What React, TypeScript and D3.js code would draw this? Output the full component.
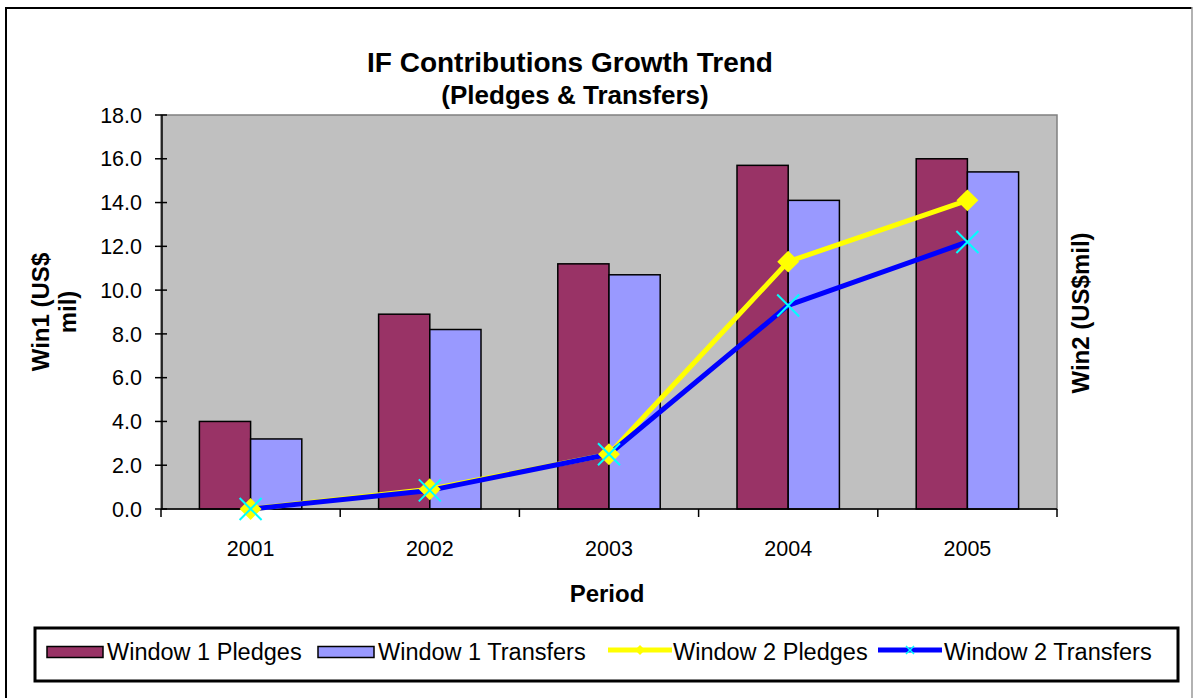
import React from "react";
import * as d3 from "d3";

const periods = ["2001", "2002", "2003", "2004", "2005"];
const w1Pledges = [4.0, 8.9, 11.2, 15.7, 16.0];
const w1Transfers = [3.2, 8.2, 10.7, 14.1, 15.4];
const w2Pledges = [0.0, 0.9, 2.5, 11.3, 14.1];
const w2Transfers = [0.0, 0.85, 2.5, 9.3, 12.2];
const yTicks = [0, 2, 4, 6, 8, 10, 12, 14, 16, 18];

const W = 1195;
const H = 698;
const PL = 161, PR = 1057, PT = 115, PB = 509;
const FONT = "'Liberation Sans', Arial, sans-serif";

const C_PLEDGE = "#993366";
const C_TRANSFER = "#9999FF";
const C_YELLOW = "#FFFF00";
const C_BLUE = "#0000FF";
const C_CYAN = "#00FFFF";

export default function App() {
  const x = d3.scaleBand<string>().domain(periods).range([PL, PR]).paddingInner(0).paddingOuter(0);
  const y = d3.scaleLinear().domain([0, 18]).range([PB, PT]);
  const y2 = d3.scaleLinear().domain([0, 18]).range([PB, PT]);
  const bw = x.bandwidth();
  const barW = bw / 3.5;
  const cx = (p: string) => (x(p) as number) + bw / 2;

  const line = d3
    .line<number>()
    .x((_, i) => cx(periods[i]))
    .y((v) => y2(v));

  const diamond = d3.symbol().type(d3.symbolSquare).size(240)();
  const boundaries = d3.range(periods.length + 1).map((i) => PL + i * bw);

  const xr = 11;
  const crossPath = (px: number, py: number, r: number) =>
    `M${px - r},${py - r}L${px + r},${py + r}M${px - r},${py + r}L${px + r},${py - r}`;

  // legend
  const legendItems = [
    { kind: "rect", color: C_PLEDGE, label: "Window 1 Pledges", sx: 47, tx: 107 },
    { kind: "rect", color: C_TRANSFER, label: "Window 1 Transfers", sx: 318, tx: 378 },
    { kind: "diamond", color: C_YELLOW, label: "Window 2 Pledges", sx: 608, tx: 673 },
    { kind: "cross", color: C_BLUE, label: "Window 2 Transfers", sx: 878, tx: 944 },
  ];
  const ly = 652;

  return (
    <svg
      width={W}
      height={H}
      viewBox={`0 0 ${W} ${H}`}
      style={{ position: "absolute", left: 0, top: 0, display: "block", background: "#fff" }}
      fontFamily={FONT}
    >
      <rect x={0} y={0} width={W} height={H} fill="#fff" />
      {/* outer frame */}
      <line x1={6} y1={7} x2={6} y2={H} stroke="#000" strokeWidth={2} />
      <line x1={5} y1={8} x2={1192} y2={8} stroke="#000" strokeWidth={2} />
      <line x1={1192} y1={7} x2={1192} y2={H} stroke="#999" strokeWidth={1.5} />

      {/* titles */}
      <text x={570} y={72} textAnchor="middle" fontWeight="bold" fontSize={28}>
        IF Contributions Growth Trend
      </text>
      <text x={575} y={104} textAnchor="middle" fontWeight="bold" fontSize={26}>
        (Pledges &amp; Transfers)
      </text>

      {/* plot area */}
      <rect x={PL} y={PT} width={PR - PL} height={PB - PT} fill="#C0C0C0" stroke="#808080" strokeWidth={1.5} />

      {/* bars */}
      {periods.map((p, i) => (
        <g key={p}>
          <rect
            x={cx(p) - barW}
            y={y(w1Pledges[i])}
            width={barW}
            height={PB - y(w1Pledges[i])}
            fill={C_PLEDGE}
            stroke="#000"
            strokeWidth={1.5}
          />
          <rect
            x={cx(p)}
            y={y(w1Transfers[i])}
            width={barW}
            height={PB - y(w1Transfers[i])}
            fill={C_TRANSFER}
            stroke="#000"
            strokeWidth={1.5}
          />
        </g>
      ))}

      {/* y axis */}
      <line x1={PL + 1} y1={PT} x2={PL + 1} y2={PB} stroke="#000" strokeWidth={1.5} />
      {yTicks.map((t) => (
        <g key={t}>
          <line x1={PL - 6} x2={PL + 6} y1={y(t)} y2={y(t)} stroke="#000" strokeWidth={1.5} />
          <text x={142} y={y(t) + 7.7} textAnchor="end" fontSize={21.5}>
            {t.toFixed(1)}
          </text>
        </g>
      ))}

      {/* x axis */}
      <line x1={PL} y1={PB} x2={PR} y2={PB} stroke="#000" strokeWidth={1.5} />
      {boundaries.map((bx, i) => (
        <line key={i} x1={bx} x2={bx} y1={PB} y2={PB + 8} stroke="#000" strokeWidth={1.5} />
      ))}
      {periods.map((p) => (
        <text key={p} x={cx(p)} y={556} textAnchor="middle" fontSize={21.5}>
          {p}
        </text>
      ))}

      {/* lines */}
      <path d={line(w2Pledges) || ""} fill="none" stroke={C_YELLOW} strokeWidth={5} strokeLinejoin="round" />
      <path d={line(w2Transfers) || ""} fill="none" stroke={C_BLUE} strokeWidth={5} strokeLinejoin="round" />
      {w2Pledges.map((v, i) => (
        <path
          key={"d" + i}
          d={diamond || ""}
          transform={`translate(${cx(periods[i])},${y2(v)}) rotate(45)`}
          fill={C_YELLOW}
        />
      ))}
      {w2Transfers.map((v, i) => (
        <path key={"x" + i} d={crossPath(cx(periods[i]), y2(v), xr)} stroke={C_CYAN} strokeWidth={2} fill="none" />
      ))}

      {/* axis titles */}
      <text x={607} y={602} textAnchor="middle" fontWeight="bold" fontSize={24}>
        Period
      </text>
      <g transform="translate(40,312) rotate(-90)">
        <text x={0} y={0} textAnchor="middle" dominantBaseline="central" fontWeight="bold" fontSize={24}>
          Win1 (US$
        </text>
      </g>
      <g transform="translate(67,312) rotate(-90)">
        <text x={0} y={0} textAnchor="middle" dominantBaseline="central" fontWeight="bold" fontSize={24}>
          mil)
        </text>
      </g>
      <g transform="translate(1080,313) rotate(-90)">
        <text x={0} y={0} textAnchor="middle" dominantBaseline="central" fontWeight="bold" fontSize={24}>
          Win2 (US$mil)
        </text>
      </g>

      {/* legend */}
      <rect x={35} y={628} width={1143} height={53} fill="#fff" stroke="#000" strokeWidth={3} />
      {legendItems.map((it) => (
        <g key={it.label}>
          {it.kind === "rect" ? (
            <rect x={it.sx} y={ly - 5.5} width={56} height={11} fill={it.color} stroke="#000" strokeWidth={1.5} />
          ) : (
            <line x1={it.sx} x2={it.sx + 64} y1={ly - 2} y2={ly - 2} stroke={it.color} strokeWidth={5} />
          )}
          {it.kind === "diamond" && (
            <path
              d={d3.symbol().type(d3.symbolSquare).size(50)() || ""}
              transform={`translate(${it.sx + 32},${ly - 2}) rotate(45)`}
              fill={C_YELLOW}
            />
          )}
          {it.kind === "cross" && (
            <path d={crossPath(it.sx + 32, ly - 2, 4)} stroke={C_CYAN} strokeWidth={1.5} fill="none" />
          )}
          <text x={it.tx} y={660} fontSize={23.5}>
            {it.label}
          </text>
        </g>
      ))}
    </svg>
  );
}
